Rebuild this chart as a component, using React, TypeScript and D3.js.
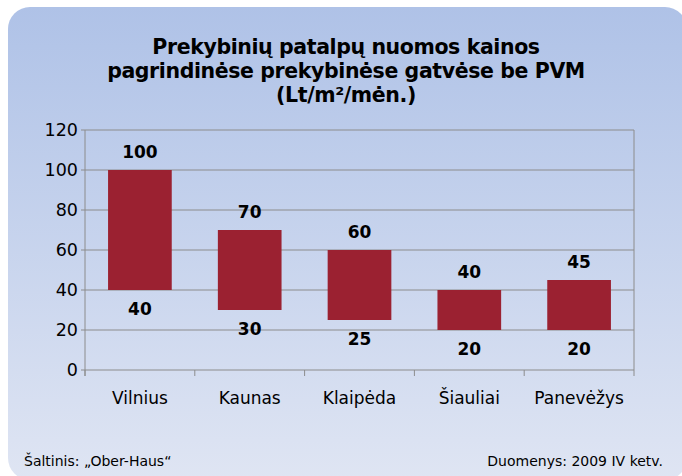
import React from "react";
import * as d3 from "d3";

const categories = ["Vilnius", "Kaunas", "Klaipėda", "Šiauliai", "Panevėžys"];
const lowValues = [40, 30, 25, 20, 20];
const highValues = [100, 70, 60, 40, 45];
const yTicks = [0, 20, 40, 60, 80, 100, 120];
const titleLines = [
  "Prekybinių patalpų nuomos kainos",
  "pagrindinėse prekybinėse gatvėse be PVM",
  "(Lt/m²/mėn.)",
];
const sourceText = "Šaltinis: „Ober-Haus“";
const dateText = "Duomenys: 2009 IV ketv.";

const W = 682;
const H = 476;
const plot = { left: 85, right: 634, top: 130, bottom: 370 };
const FONT = "'DejaVu Sans', Verdana, sans-serif";

export default function App() {
  const x = d3
    .scaleBand<string>()
    .domain(categories)
    .range([plot.left, plot.right])
    .paddingInner(0.42)
    .paddingOuter(0.21);
  const band = d3.scaleBand<string>().domain(categories).range([plot.left, plot.right]);
  const y = d3.scaleLinear().domain([0, 120]).range([plot.bottom, plot.top]);

  return (
    <svg
      width={W}
      height={H}
      style={{ position: "absolute", left: 0, top: 0, display: "block" }}
    >
      <defs>
        <linearGradient id="bg" x1="0" y1="0" x2="0" y2="1">
          <stop offset="0" stopColor="#AFC2E7" />
          <stop offset="1" stopColor="#DFE5F3" />
        </linearGradient>
      </defs>
      <rect x={0} y={0} width={W} height={H} fill="#ffffff" />
      <rect x={8} y={7} width={679} height={473} rx={22} ry={22} fill="url(#bg)" />

      {titleLines.map((t, i) => (
        <text
          key={i}
          x={346}
          y={54 + i * 24}
          textAnchor="middle"
          fontFamily={FONT}
          fontWeight="bold"
          fontSize={20.5}
          letterSpacing={-0.4}
          fill="#000"
        >
          {t}
        </text>
      ))}

      {yTicks.map((t) => (
        <line
          key={"g" + t}
          x1={plot.left - 4}
          x2={plot.right}
          y1={y(t)}
          y2={y(t)}
          stroke="#8C8C8C"
          strokeWidth={1}
        />
      ))}
      <line x1={plot.left} x2={plot.left} y1={plot.top} y2={plot.bottom + 6} stroke="#8C8C8C" />
      <line x1={plot.right} x2={plot.right} y1={plot.top} y2={plot.bottom + 6} stroke="#8C8C8C" />
      {categories.map((c) => (
        <line
          key={"t" + c}
          x1={band(c)!}
          x2={band(c)!}
          y1={plot.bottom}
          y2={plot.bottom + 6}
          stroke="#8C8C8C"
        />
      ))}

      {yTicks.map((t) => (
        <text
          key={"yl" + t}
          x={78}
          y={y(t) + 6}
          textAnchor="end"
          fontFamily={FONT}
          fontSize={17.5}
          fill="#000"
        >
          {t}
        </text>
      ))}

      {categories.map((c, i) => (
        <g key={c}>
          <rect
            x={x(c)!}
            y={y(highValues[i])}
            width={x.bandwidth()}
            height={y(lowValues[i]) - y(highValues[i])}
            fill="#9B2131"
          />
          <text
            x={x(c)! + x.bandwidth() / 2}
            y={y(highValues[i]) - 12}
            textAnchor="middle"
            fontFamily={FONT}
            fontWeight="bold"
            fontSize={17}
            fill="#000"
          >
            {highValues[i]}
          </text>
          <text
            x={x(c)! + x.bandwidth() / 2}
            y={y(lowValues[i]) + 25}
            textAnchor="middle"
            fontFamily={FONT}
            fontWeight="bold"
            fontSize={17}
            fill="#000"
          >
            {lowValues[i]}
          </text>
          <text
            x={band(c)! + band.bandwidth() / 2}
            y={404}
            textAnchor="middle"
            fontFamily={FONT}
            fontSize={17}
            fill="#000"
          >
            {c}
          </text>
        </g>
      ))}

      <text x={24} y={466} fontFamily={FONT} fontSize={14} fill="#000">
        {sourceText}
      </text>
      <text x={663} y={466} textAnchor="end" fontFamily={FONT} fontSize={14} fill="#000">
        {dateText}
      </text>
    </svg>
  );
}
